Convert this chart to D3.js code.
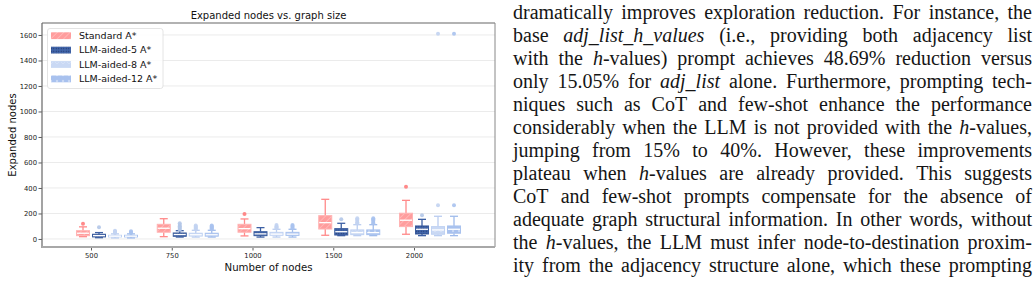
<!DOCTYPE html>
<html><head><meta charset="utf-8">
<script src="https://cdn.jsdelivr.net/npm/d3@7"></script>
<style>html,body{margin:0;padding:0;background:#fff;}svg{display:block;}</style>
</head><body>
<svg id="fig" width="1036" height="294"></svg>
<script>
// ---------- data ----------
const categories = ["500", "750", "1000", "1500", "2000"];
const seriesNames = ["Standard A*", "LLM-aided-5 A*", "LLM-aided-8 A*", "LLM-aided-12 A*"];
const yTicks = [0, 200, 400, 600, 800, 1000, 1200, 1400, 1600];
// box stats per category: [whiskerLow, q1, median, q3, whiskerHigh]
const standardStats = [[18, 26, 45, 65, 95], [18, 53, 84, 115, 159], [24, 53, 81, 115, 157], [29, 78, 128, 183, 311], [37, 97, 147, 202, 303]];
const standardOutliers = [[120], [], [196], [], [410]];
const llm5Stats = [[10, 16, 26, 37, 50], [15, 21, 35, 47, 65], [15, 26, 40, 57, 89], [26, 31, 57, 81, 123], [26, 39, 76, 102, 154]];
const llm5Outliers = [[92], [72, 80, 90, 100, 110, 123], [], [154], [186]];
const llm8Stats = [[8, 16, 22, 29, 40], [15, 23, 33, 45, 68], [15, 29, 38, 52, 76], [26, 34, 50, 71, 112], [26, 37, 71, 97, 178]];
const llm8Outliers = [[46, 52, 58, 64], [75, 82, 90, 98, 106], [84, 92, 100, 110], [123, 132, 142, 152, 162], [264, 1610]];
const llm12Stats = [[8, 16, 22, 29, 40], [15, 22, 33, 45, 68], [15, 28, 38, 52, 76], [26, 34, 50, 71, 112], [26, 45, 76, 102, 178]];
const llm12Outliers = [[47, 54, 61], [76, 84, 92, 100, 105], [84, 93, 102, 110], [124, 134, 144, 154, 162], [264, 1610]];

const paragraphLines = [
  "dramatically improves exploration reduction. For instance, the",
  "base *adj_list_h_values* (i.e., providing both adjacency list",
  "with the *h*-values) prompt achieves 48.69% reduction versus",
  "only 15.05% for *adj_list* alone. Furthermore, prompting tech-",
  "niques such as CoT and few-shot enhance the performance",
  "considerably when the LLM is not provided with the *h*-values,",
  "jumping from 15% to 40%. However, these improvements",
  "plateau when *h*-values are already provided. This suggests",
  "CoT and few-shot prompts compensate for the absence of",
  "adequate graph structural information. In other words, without",
  "the *h*-values, the LLM must infer node-to-destination proxim-",
  "ity from the adjacency structure alone, which these prompting"
];

// ---------- styling ----------
const series = [
  {name: seriesNames[0], stats: standardStats, out: standardOutliers, fill: "url(#pStd)", edge: "#ffb3b3", line: "#ff8a8a", dot: "#ff7c7c"},
  {name: seriesNames[1], stats: llm5Stats, out: llm5Outliers, fill: "url(#pL5)", edge: "#3a5c9e", line: "#3d60a4", dot: "#b3c6e8"},
  {name: seriesNames[2], stats: llm8Stats, out: llm8Outliers, fill: "url(#pL8)", edge: "#c0d2f2", line: "#bacdf0", dot: "#c2d3f1"},
  {name: seriesNames[3], stats: llm12Stats, out: llm12Outliers, fill: "url(#pL12)", edge: "#a9c2ee", line: "#9fbbeb", dot: "#a9c2ee"}
];

const svg = d3.select("#fig");
const defs = svg.append("defs");
// patterns
{
  const p = defs.append("pattern").attr("id", "pStd").attr("width", 4.5).attr("height", 4.5)
    .attr("patternUnits", "userSpaceOnUse").attr("patternTransform", "rotate(45)");
  p.append("rect").attr("width", 4.5).attr("height", 4.5).attr("fill", "#ff9d9d");
  p.append("line").attr("x1", 0).attr("y1", 0).attr("x2", 0).attr("y2", 4.5).attr("stroke", "#ffc2c2").attr("stroke-width", 1.3);
  const q = defs.append("pattern").attr("id", "pL5").attr("width", 2.5).attr("height", 2.5).attr("patternUnits", "userSpaceOnUse");
  q.append("rect").attr("width", 2.5).attr("height", 2.5).attr("fill", "#4266aa");
  q.append("circle").attr("cx", 1.25).attr("cy", 1.25).attr("r", 0.6).attr("fill", "#1d3268");
  const r = defs.append("pattern").attr("id", "pL8").attr("width", 6).attr("height", 6).attr("patternUnits", "userSpaceOnUse");
  r.append("rect").attr("width", 6).attr("height", 6).attr("fill", "#cad9f4");
  r.append("path").attr("d", "M1,2 L3,4 L5,2").attr("fill", "none").attr("stroke", "#d8e3f7").attr("stroke-width", 0.8);
  const s = defs.append("pattern").attr("id", "pL12").attr("width", 6).attr("height", 6).attr("patternUnits", "userSpaceOnUse");
  s.append("rect").attr("width", 6).attr("height", 6).attr("fill", "#a8c1ee");
  s.append("circle").attr("cx", 3).attr("cy", 3).attr("r", 1.2).attr("fill", "#c9d9f6");
}

// ---------- scales ----------
const plot = {left: 42, right: 495, top: 23, bottom: 247};
const x = d3.scalePoint().domain(categories).range([91, 414]);
const dx = d3.scalePoint().domain(seriesNames).range([-8, 40]);
const y = d3.scaleLinear().domain([-63, 1694]).range([plot.bottom, plot.top]);
const boxW = 13, capW = 8;

// grid
svg.append("g").selectAll("line").data(yTicks).join("line")
  .attr("x1", plot.left).attr("x2", plot.right)
  .attr("y1", d => y(d)).attr("y2", d => y(d))
  .attr("stroke", "#ebebeb").attr("stroke-width", 1);

// boxes
series.forEach(s => {
  const g = svg.append("g");
  categories.forEach((c, i) => {
    const [lo, q1, med, q3, hi] = s.stats[i];
    const cx = x(c) + dx(s.name);
    const gg = g.append("g");
    gg.append("line").attr("x1", cx).attr("x2", cx).attr("y1", y(q3)).attr("y2", y(hi)).attr("stroke", s.line).attr("stroke-width", 1.3);
    gg.append("line").attr("x1", cx).attr("x2", cx).attr("y1", y(q1)).attr("y2", y(lo)).attr("stroke", s.line).attr("stroke-width", 1.3);
    gg.append("line").attr("x1", cx - capW / 2).attr("x2", cx + capW / 2).attr("y1", y(hi)).attr("y2", y(hi)).attr("stroke", s.line).attr("stroke-width", 1.3);
    gg.append("line").attr("x1", cx - capW / 2).attr("x2", cx + capW / 2).attr("y1", y(lo)).attr("y2", y(lo)).attr("stroke", s.line).attr("stroke-width", 1.3);
    gg.append("rect").attr("x", cx - boxW / 2).attr("width", boxW)
      .attr("y", y(q3)).attr("height", Math.max(1, y(q1) - y(q3)))
      .attr("fill", s.fill).attr("stroke", s.edge).attr("stroke-width", 1);
    gg.append("line").attr("x1", cx - boxW / 2 + 0.5).attr("x2", cx + boxW / 2 - 0.5).attr("y1", y(med)).attr("y2", y(med))
      .attr("stroke", "#ffffff").attr("stroke-width", 1.3);
    gg.selectAll("circle").data(s.out[i]).join("circle")
      .attr("cx", cx).attr("cy", d => y(d)).attr("r", 2)
      .attr("fill", s.dot).attr("fill-opacity", 0.9);
  });
});

// axes
const font = "'DejaVu Sans', sans-serif";
const yAxis = svg.append("g").attr("transform", `translate(${plot.left},0)`)
  .call(d3.axisLeft(y).tickValues(yTicks).tickFormat(d3.format("d")).tickSize(3.5).tickPadding(1.5));
yAxis.select(".domain").remove();
yAxis.selectAll(".tick line").attr("stroke", "#333").attr("stroke-width", 0.8);
yAxis.selectAll("text").attr("font-family", font).attr("font-size", 6.8).attr("fill", "#222");

const xAxis = svg.append("g").attr("transform", `translate(0,${plot.bottom})`)
  .call(d3.axisBottom(x).tickSize(3.5).tickPadding(3));
xAxis.select(".domain").remove();
xAxis.selectAll(".tick line").attr("stroke", "#333").attr("stroke-width", 0.8);
xAxis.selectAll("text").attr("font-family", font).attr("font-size", 6.8).attr("fill", "#222");

// spines
svg.append("line").attr("x1", plot.left).attr("x2", plot.right).attr("y1", plot.top).attr("y2", plot.top).attr("stroke", "#666").attr("stroke-width", 1.2);
svg.append("line").attr("x1", plot.right).attr("x2", plot.right).attr("y1", plot.top).attr("y2", plot.bottom).attr("stroke", "#888").attr("stroke-width", 1);
svg.append("line").attr("x1", plot.left).attr("x2", plot.left).attr("y1", plot.top).attr("y2", plot.bottom + 1).attr("stroke", "#666").attr("stroke-width", 1.2);
svg.append("line").attr("x1", plot.left).attr("x2", plot.right).attr("y1", plot.bottom).attr("y2", plot.bottom).attr("stroke", "#a8a8a8").attr("stroke-width", 2);

// titles
svg.append("text").attr("x", (plot.left + plot.right) / 2).attr("y", 15).attr("dy", "0.35em")
  .attr("text-anchor", "middle").attr("font-family", font).attr("font-size", 10).attr("fill", "#111")
  .text("Expanded nodes vs. graph size");
svg.append("text").attr("x", (plot.left + plot.right) / 2).attr("y", 267).attr("dy", "0.35em")
  .attr("text-anchor", "middle").attr("font-family", font).attr("font-size", 10.2).attr("fill", "#111")
  .text("Number of nodes");
svg.append("text").attr("transform", `translate(12,${(plot.top + plot.bottom) / 2}) rotate(-90)`).attr("dy", "0.35em")
  .attr("text-anchor", "middle").attr("font-family", font).attr("font-size", 10).attr("fill", "#111")
  .text("Expanded nodes");

// legend
const lg = svg.append("g");
lg.append("rect").attr("x", 47.5).attr("y", 28.5).attr("width", 115.5).attr("height", 60).attr("rx", 2.5)
  .attr("fill", "#fff").attr("fill-opacity", 0.85).attr("stroke", "#dddddd").attr("stroke-width", 0.8);
series.forEach((s, i) => {
  const cy = 35.7 + i * 14.4;
  lg.append("rect").attr("x", 51).attr("y", cy - 3.4).attr("width", 20).attr("height", 6.8).attr("fill", s.fill);
  lg.append("text").attr("x", 79).attr("y", cy).attr("dy", "0.35em").attr("font-family", font)
    .attr("font-size", 9.5).attr("fill", "#111").text(s.name);
});

// paragraph (justified)
const tx0 = 513, tx1 = 1032, ty0 = 13, lead = 23;
const para = svg.append("g").attr("font-family", "'Liberation Serif', 'Times New Roman', serif")
  .attr("font-size", 20).attr("fill", "#151515");
paragraphLines.forEach((ln, li) => {
  const words = ln.split(" ");
  const nodes = words.map(w => {
    const t = para.append("text").attr("y", ty0 + li * lead).attr("dy", "0.32em");
    w.split("*").forEach((seg, k) => {
      if (seg === "") return;
      t.append("tspan").attr("font-style", k % 2 === 1 ? "italic" : "normal").text(seg);
    });
    return t;
  });
  const widths = nodes.map(n => n.node().getComputedTextLength());
  const total = d3.sum(widths);
  const gap = (tx1 - tx0 - total) / Math.max(1, nodes.length - 1);
  let cx = tx0;
  nodes.forEach((n, k) => { n.attr("x", cx); cx += widths[k] + gap; });
});
</script>
</body></html>
